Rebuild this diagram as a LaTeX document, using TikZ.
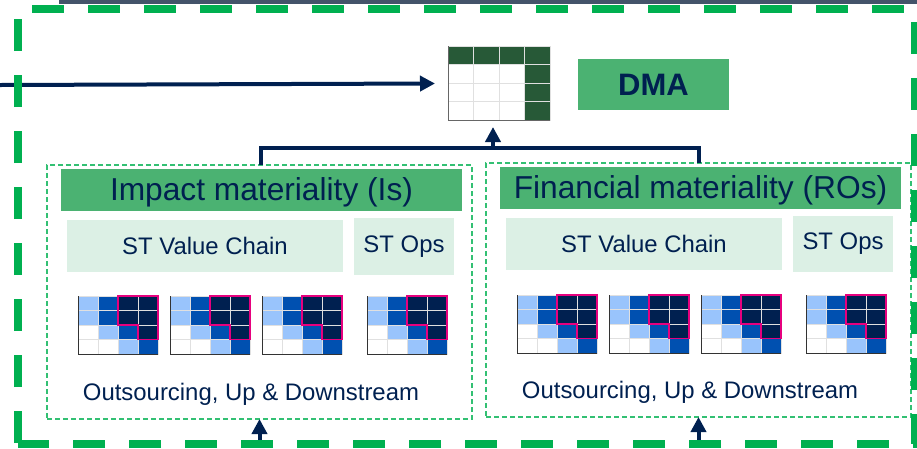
\documentclass[tikz,border=0pt]{standalone}
\usepackage{fontspec}
\setmainfont{Liberation Sans}
\usetikzlibrary{arrows.meta}
\definecolor{navy}{HTML}{002050}
\definecolor{slate}{HTML}{44546A}
\definecolor{framegreen}{HTML}{00B050}
\definecolor{headgreen}{HTML}{4BB272}
\definecolor{palegreen}{HTML}{DCF0E5}
\definecolor{tablegreen}{HTML}{275937}
\definecolor{midblue}{HTML}{0050B0}
\definecolor{lightblue}{HTML}{99C4FC}
\definecolor{gridpink}{HTML}{E6007E}
\tikzset{
  heatgrid/.pic={
    \foreach \col/\row/\tone in {0/0/lightblue,1/0/midblue,2/0/navy,3/0/navy,
        0/1/lightblue,1/1/midblue,2/1/navy,3/1/navy,
        0/2/white,1/2/lightblue,2/2/midblue,3/2/navy,
        0/3/white,1/3/white,2/3/lightblue,3/3/midblue}
      \filldraw [fill=\tone,draw=black!12,line width=.8] (\col*20,\row*14.5) rectangle ++(20,14.5);
    \draw [black!80,line width=1] (0,0) -- (0,58) -- (80,58);
    \draw [gridpink,line width=1.7] (40,0) -- (80,0) -- (80,43.5) -- (60,43.5) -- (60,29) -- (40,29) -- cycle;
  }
}
\begin{document}
\begin{tikzpicture}[x=1pt,y=-1pt]
      \tikzstyle{frameline} = [framegreen,line width=8,dash pattern=on 32 off 24];
      \tikzstyle{panel} = [draw=framegreen!80,line width=1.3,dash pattern=on 5 off 3,anchor=north west,inner sep=0,outer sep=0];
      \tikzstyle{header} = [fill=headgreen,text=navy,anchor=center,inner sep=0,minimum width=401,minimum height=42,text height=27,text depth=6.8,font=\fontsize{31.7}{32}\selectfont];
      \tikzstyle{scopebox} = [fill=palegreen,text=navy,anchor=center,inner sep=0,font=\fontsize{23.9}{24}\selectfont];
      \tikzstyle{note} = [text=navy,anchor=center,inner sep=0,font=\fontsize{23.9}{24}\selectfont];
      \tikzstyle{feedline} = [navy,line width=4,-{Triangle[length=15,width=15]}];
      \useasboundingbox (0,0) rectangle (917,448);
      \fill [slate] (59,0) rectangle (917,4);
      % table
      \node (dmatable) [anchor=north west,inner sep=0,minimum width=102,minimum height=74] at (448,46) {};
      \foreach \col in {0,1,2,3}
        \foreach \row in {0,1,2,3}
          \draw [black!12,line width=1] (448+\col*25.5,46+\row*18.5) rectangle ++(25.5,18.5);
      \foreach \col in {0,1,2,3}
        \filldraw [fill=tablegreen,draw=black!12,line width=1] (448+\col*25.5,46) rectangle ++(25.5,18.5);
      \foreach \row in {1,2,3}
        \filldraw [fill=tablegreen,draw=black!12,line width=1] (524.5,46+\row*18.5) rectangle ++(25.5,18.5);
      \draw [black!60,line width=1] (448,46) -- (448,120) -- (550,120);
      \node (dmabox) [fill=headgreen,text=navy,inner sep=0,minimum width=151,minimum height=51,font=\bfseries\fontsize{31}{31}\selectfont] at (653.5,84.5) {DMA};
      % impact side
      \node (impactpanel) [panel,minimum width=425,minimum height=254] at (47,165) {};
      \node (impacthead) [header] at (261.5,190) {Impact materiality (Is)};
      \node (impactchain) [scopebox,minimum width=276,minimum height=52] at (205,246) {ST Value Chain};
      \node (impactops) [scopebox,minimum width=100,minimum height=57] at (404,246.5) {ST Ops};
      \pic at (78,296) {heatgrid};
      \pic at (170,296) {heatgrid};
      \pic at (262,296) {heatgrid};
      \pic at (367,296) {heatgrid};
      \node (impactnote) [note] at (251,394) {Outsourcing, Up \& Downstream};
      % financial side
      \node (financepanel) [panel,minimum width=425,minimum height=254] at (486,163) {};
      \node (financehead) [header] at (700.5,188) {Financial materiality (ROs)};
      \node (financechain) [scopebox,minimum width=276,minimum height=52] at (644,244) {ST Value Chain};
      \node (financeops) [scopebox,minimum width=100,minimum height=56] at (843,244) {\raisebox{1.5pt}{ST Ops}};
      \pic at (517,295) {heatgrid};
      \pic at (609,295) {heatgrid};
      \pic at (701,295) {heatgrid};
      \pic at (806,295) {heatgrid};
      \node (financenote) [note] at (690,392) {Outsourcing, Up \& Downstream};
      % links
      \coordinate (feedin) at (0,85);
      \coordinate (tablein) at (435,83.5);
      \coordinate (busmid) at (493,148);
      \coordinate (tableunder) at (493,127);
      \coordinate (impactunder) at (259.5,440);
      \coordinate (financeunder) at (698.5,440);
      \draw [feedline] (feedin) -- (tablein);
      \draw [navy,line width=4] ([xshift=1.5]impactpanel.north) -- (261,148) -| (financepanel.north);
      \draw [feedline] (busmid) -- (tableunder);
      \draw [feedline] (impactunder) -- (impactpanel.south);
      \draw [feedline] (financeunder) -- (financepanel.south);
      % outer frame
      \draw [frameline] (18,443) -- (18,9);
      \draw [frameline] (32,9) -- (915,9) -- (915,444) -- (18,444);
    \end{tikzpicture}
\end{document}
